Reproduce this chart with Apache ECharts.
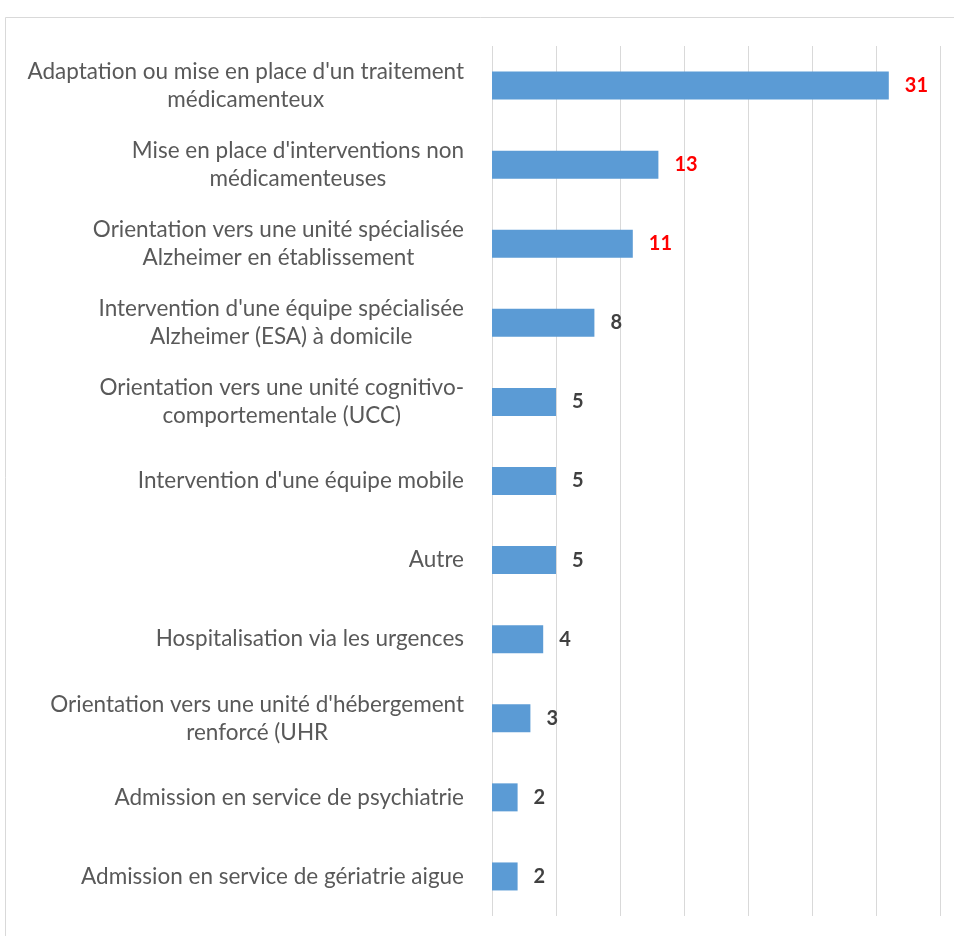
<!DOCTYPE html>
<html>
<head>
<meta charset="utf-8">
<script src="https://cdn.jsdelivr.net/npm/echarts@6/dist/echarts.min.js"></script>
<style>html,body{margin:0;padding:0;background:#fff;}#c{width:954px;height:936px;}</style>
</head>
<body>
<div id="c"></div>
<script>
const categories = [
  "Adaptation ou mise en place d'un traitement\nmédicamenteux",
  "Mise en place d'interventions non\nmédicamenteuses",
  "Orientation vers une unité spécialisée\nAlzheimer en établissement",
  "Intervention d'une équipe spécialisée\nAlzheimer (ESA) à domicile",
  "Orientation vers une unité cognitivo-\ncomportementale (UCC)",
  "Intervention d'une équipe mobile",
  "Autre",
  "Hospitalisation via les urgences",
  "Orientation vers une unité d'hébergement\nrenforcé (UHR",
  "Admission en service de psychiatrie",
  "Admission en service de gériatrie aigue"
];
const values = [31, 13, 11, 8, 5, 5, 5, 4, 3, 2, 2];
const highlighted = [true, true, true, false, false, false, false, false, false, false, false];

const FONT = 'Lato, "Open Sans", sans-serif';
const chart = echarts.init(document.getElementById('c'), null, {renderer: 'canvas'});
chart.setOption({
  animation: false,
  backgroundColor: '#fff',
  graphic: [{
    type: 'rect', shape: {x: 5.5, y: 17.5, width: 1000, height: 1000},
    style: {fill: 'none', stroke: '#d9d9d9', lineWidth: 1}, silent: true, z: -10
  }],
  grid: {left: 492, right: 14, top: 46, bottom: 20, containLabel: false},
  xAxis: {
    type: 'value', min: 0, max: 35, interval: 5,
    axisLabel: {show: false}, axisTick: {show: false}, axisLine: {show: false},
    splitLine: {show: true, lineStyle: {color: '#d9d9d9', width: 1}}
  },
  yAxis: {
    type: 'category', data: categories, inverse: true,
    axisLine: {show: false}, axisTick: {show: false},
    axisLabel: {
      margin: 28, align: 'right',
      formatter: function (v) { return v.split('\n').map(function (l) { return '{a|' + l + '}'; }).join('\n'); },
      rich: {a: {align: 'center', fontFamily: FONT, fontSize: 22.5, lineHeight: 28, color: '#595959'}}
    }
  },
  series: [{
    type: 'bar', barWidth: 28,
    data: values.map(function (v, i) {
      return {value: v, label: {color: highlighted[i] ? '#ff0000' : '#404040'}};
    }),
    itemStyle: {color: '#5b9bd5'},
    label: {show: true, position: 'right', distance: 16, fontFamily: FONT, fontWeight: 'bold', fontSize: 20}
  }]
});
</script>
</body>
</html>
